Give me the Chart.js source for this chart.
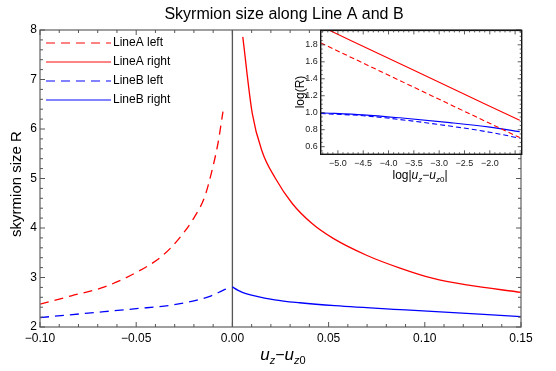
<!DOCTYPE html>
<html>
<head>
<meta charset="utf-8">
<script src="https://cdn.jsdelivr.net/npm/chart.js@4"></script>
<style>
  html, body { margin:0; padding:0; background:#fff; }
  #wrap { position:relative; width:556px; height:371px; }
  #main { position:absolute; left:0; top:0; }
  #inset { position:absolute; left:288px; top:22px; }
</style>
</head>
<body>
<div id="wrap">
  <canvas id="main" width="556" height="371"></canvas>
  <canvas id="inset" width="236" height="170"></canvas>
</div>
<script>
// valeurs
const aLeftX  = [-0.1, -0.0837, -0.0664, -0.0491, -0.037, -0.0283, -0.0196, -0.0144, -0.011, -0.0075, -0.0049];
const aLeftR  = [2.46, 2.63, 2.81, 3.12, 3.42, 3.76, 4.23, 4.63, 5.10, 5.71, 6.35];
const aRightX = [0.0054, 0.0103, 0.0155, 0.0224, 0.031, 0.0414, 0.0524, 0.0697, 0.0871, 0.1044, 0.1218, 0.15];
const aRightR = [7.86, 6.32, 5.54, 5.00, 4.50, 4.09, 3.79, 3.45, 3.19, 2.98, 2.85, 2.70];
const bLeftX  = [-0.1, -0.075, -0.05, -0.032, -0.02, -0.011, -0.0049, -0.001];
const bLeftR  = [2.19, 2.28, 2.37, 2.44, 2.53, 2.63, 2.74, 2.80];
const bRightX = [0, 0.003, 0.0066, 0.022, 0.035, 0.0533, 0.0923, 0.15];
const bRightR = [2.81, 2.74, 2.68, 2.55, 2.49, 2.43, 2.34, 2.21];

// encart : log(R) en fonction de log|uz-uz0|
const inALeftX  = [-5.34, -3.5, -1.41];
const inALeftY  = [1.823, 1.30, 0.707];
const inARightX = [-5.34, -3.5, -1.41];
const inARightY = [2.02, 1.50, 0.91];
const inBLeftX  = [-5.34, -4.5, -3.78, -2.79, -2.0, -1.41];
const inBLeftY  = [0.99, 0.965, 0.92, 0.843, 0.77, 0.70];
const inBRightX = [-5.34, -4.5, -3.78, -2.79, -2.0, -1.41];
const inBRightY = [1.0, 0.975, 0.94, 0.883, 0.83, 0.777];

const labels = ["LineA left", "LineA right", "LineB left", "LineB right"];
const xTicks = [-0.10, -0.05, 0.00, 0.05, 0.10, 0.15];
const yTicks = [2, 3, 4, 5, 6, 7, 8];
const inXTicks = [-5.0, -4.5, -4.0, -3.5, -3.0, -2.5, -2.0];
const inYTicks = [0.6, 0.8, 1.0, 1.2, 1.4, 1.6, 1.8];

const FONT = "'Liberation Sans', Arial, sans-serif";
const RED = "#ff0000", BLUE = "#0000ff";

function pts(xs, ys){ return xs.map((x,i)=>({ x, y: ys[i] })); }
function ds(label, xs, ys, color, dash, w){
  return { label, data: pts(xs, ys), borderColor: color, borderWidth: w, borderDash: dash,
           pointRadius: 0, fill: false, cubicInterpolationMode: "monotone" };
}
function minus(v, d){ return (v < -1e-9 ? "\u2212" : "") + Math.abs(v).toFixed(d); }

function drawTicks(ctx, a, sx, sy, xs, xm, ys, ym, big, small){
  const isMajor = (v, m)=> Math.abs(v/m - Math.round(v/m)) < 1e-6;
  for(let k = Math.ceil(sx.min/xs - 1e-6); k*xs <= sx.max + 1e-9; k++){
    const v = k*xs, p = sx.getPixelForValue(v), l = isMajor(v, xm) ? big : small;
    ctx.moveTo(p, a.bottom); ctx.lineTo(p, a.bottom - l);
    ctx.moveTo(p, a.top); ctx.lineTo(p, a.top + l);
  }
  for(let k = Math.ceil(sy.min/ys - 1e-6); k*ys <= sy.max + 1e-9; k++){
    const v = k*ys, p = sy.getPixelForValue(v), l = isMajor(v, ym) ? big : small;
    ctx.moveTo(a.left, p); ctx.lineTo(a.left + l, p);
    ctx.moveTo(a.right, p); ctx.lineTo(a.right - l, p);
  }
}

function richText(ctx, parts, cx, base){
  let w = 0;
  parts.forEach(p=>{ ctx.font = p.f; w += ctx.measureText(p.t).width; });
  let x = cx - w/2;
  ctx.textAlign = "left"; ctx.textBaseline = "alphabetic";
  parts.forEach(p=>{ ctx.font = p.f; ctx.fillText(p.t, x, base + (p.dy||0)); x += ctx.measureText(p.t).width; });
}

const mainDeco = {
  id: "mainDeco",
  beforeDatasetsDraw(chart){
    const { ctx, chartArea: a, scales: { x } } = chart;
    const p = x.getPixelForValue(0);
    ctx.save();
    ctx.strokeStyle = "#555"; ctx.lineWidth = 1.3;
    ctx.beginPath(); ctx.moveTo(p, a.top); ctx.lineTo(p, a.bottom); ctx.stroke();
    ctx.restore();
  },
  afterDraw(chart){
    const { ctx, chartArea: a, scales: { x, y } } = chart;
    ctx.save();
    ctx.strokeStyle = "#777"; ctx.lineWidth = 1.4;
    ctx.strokeRect(a.left, a.top, a.right - a.left, a.bottom - a.top);
    ctx.lineWidth = 1; ctx.strokeStyle = "#555";
    ctx.beginPath();
    drawTicks(ctx, a, x, y, 0.01, 0.05, 0.2, 1, 5, 3);
    ctx.stroke();

    // légende
    chart.data.datasets.forEach((d, i)=>{
      const yy = 43 + i*19;
      ctx.strokeStyle = d.borderColor; ctx.globalAlpha = 0.65; ctx.lineWidth = 1.5;
      ctx.setLineDash(d.borderDash || []);
      ctx.beginPath(); ctx.moveTo(46, yy); ctx.lineTo(111, yy); ctx.stroke();
      ctx.setLineDash([]); ctx.globalAlpha = 1;
      ctx.fillStyle = "#000"; ctx.font = "12px " + FONT;
      ctx.textAlign = "left"; ctx.textBaseline = "middle";
      ctx.fillText(d.label, 113, yy);
    });

    // titres
    ctx.fillStyle = "#000";
    ctx.font = "16px " + FONT; ctx.textAlign = "center"; ctx.textBaseline = "middle";
    ctx.fillText("Skyrmion size along Line A and B", 284, 15);
    ctx.save();
    ctx.translate(17, 184); ctx.rotate(-Math.PI/2);
    ctx.font = "15px " + FONT;
    ctx.fillText("skyrmion size R", 0, 0);
    ctx.restore();
    const it = "italic 17px " + FONT, sub = "italic 11px " + FONT;
    richText(ctx, [
      { t: "u", f: it }, { t: "z", f: sub, dy: 4 }, { t: "\u2212", f: "16px " + FONT },
      { t: "u", f: it }, { t: "z", f: sub, dy: 4 }, { t: "0", f: "11px " + FONT, dy: 4 }
    ], 283, 360);
    ctx.restore();
  }
};

const insetDeco = {
  id: "insetDeco",
  beforeDraw(chart){
    const { ctx, chartArea: a } = chart;
    ctx.save(); ctx.fillStyle = "#fff";
    ctx.fillRect(a.left, a.top, a.right - a.left, a.bottom - a.top);
    ctx.restore();
  },
  afterDraw(chart){
    const { ctx, chartArea: a, scales: { x, y } } = chart;
    ctx.save();
    ctx.strokeStyle = "#111"; ctx.lineWidth = 1.4;
    ctx.strokeRect(a.left, a.top, a.right - a.left, a.bottom - a.top);
    ctx.lineWidth = 0.8; ctx.strokeStyle = "#333";
    ctx.beginPath();
    drawTicks(ctx, a, x, y, 0.1, 0.5, 0.05, 0.2, 4, 2);
    ctx.stroke();
    ctx.fillStyle = "#000";
    ctx.save();
    ctx.translate(13, 70); ctx.rotate(-Math.PI/2);
    ctx.font = "12px " + FONT; ctx.textAlign = "center"; ctx.textBaseline = "middle";
    ctx.fillText("log(R)", 0, 0);
    ctx.restore();
    const f = "12px " + FONT, it = "italic 12px " + FONT, sub = "italic 8px " + FONT;
    richText(ctx, [
      { t: "log|", f }, { t: "u", f: it }, { t: "z", f: sub, dy: 3 }, { t: "\u2212", f },
      { t: "u", f: it }, { t: "z", f: sub, dy: 3 }, { t: "0", f: "8px " + FONT, dy: 3 }, { t: "|", f }
    ], 132, 157);
    ctx.restore();
  }
};

new Chart(document.getElementById("main"), {
  type: "line",
  data: { datasets: [
    ds(labels[0], aLeftX, aLeftR, RED, [9, 6], 1.3),
    ds(labels[1], aRightX, aRightR, RED, [], 1.3),
    ds(labels[2], bLeftX, bLeftR, BLUE, [9, 6], 1.3),
    ds(labels[3], bRightX, bRightR, BLUE, [], 1.3)
  ]},
  options: {
    responsive: false, animation: false, events: [],
    layout: { padding: { top: 30, right: 35, left: 0, bottom: 0 } },
    plugins: { legend: { display: false }, title: { display: false }, tooltip: { enabled: false } },
    scales: {
      x: {
        type: "linear", min: -0.1, max: 0.15,
        grid: { display: false, drawTicks: false }, border: { display: false },
        afterBuildTicks: s=>{ s.ticks = xTicks.map(v=>({ value: v })); },
        afterFit: s=>{ s.height = 44; },
        ticks: { padding: 4, color: "#000", font: { family: FONT, size: 12 }, maxRotation: 0, autoSkip: false,
                 callback: v=> minus(v, 2) }
      },
      y: {
        type: "linear", min: 2, max: 8,
        grid: { display: false, drawTicks: false }, border: { display: false },
        afterBuildTicks: s=>{ s.ticks = yTicks.map(v=>({ value: v })); },
        afterFit: s=>{ s.width = 40; },
        ticks: { padding: 3, color: "#000", font: { family: FONT, size: 12 }, autoSkip: false,
                 callback: v=> String(v) }
      }
    }
  },
  plugins: [mainDeco]
});

new Chart(document.getElementById("inset"), {
  type: "line",
  data: { datasets: [
    ds(labels[0], inALeftX, inALeftY, RED, [5, 3], 1.1),
    ds(labels[1], inARightX, inARightY, RED, [], 1.1),
    ds(labels[2], inBLeftX, inBLeftY, BLUE, [5, 3], 1.1),
    ds(labels[3], inBRightX, inBRightY, BLUE, [], 1.1)
  ]},
  options: {
    responsive: false, animation: false, events: [],
    layout: { padding: { top: 7.7, right: 2.3, left: 0, bottom: 0 } },
    plugins: { legend: { display: false }, title: { display: false }, tooltip: { enabled: false } },
    scales: {
      x: {
        type: "linear", min: -5.34, max: -1.37,
        grid: { display: false, drawTicks: false }, border: { display: false },
        afterBuildTicks: s=>{ s.ticks = inXTicks.map(v=>({ value: v })); },
        afterFit: s=>{ s.height = 37.7; },
        ticks: { padding: 4, color: "#222", font: { family: FONT, size: 9 }, maxRotation: 0, autoSkip: false,
                 callback: v=> minus(v, 1) }
      },
      y: {
        type: "linear", min: 0.51, max: 1.97,
        grid: { display: false, drawTicks: false }, border: { display: false },
        afterBuildTicks: s=>{ s.ticks = inYTicks.map(v=>({ value: v })); },
        afterFit: s=>{ s.width = 32.7; },
        ticks: { padding: 3, color: "#222", font: { family: FONT, size: 9 }, autoSkip: false,
                 callback: v=> v.toFixed(1) }
      }
    }
  },
  plugins: [insetDeco]
});
</script>
</body>
</html>
